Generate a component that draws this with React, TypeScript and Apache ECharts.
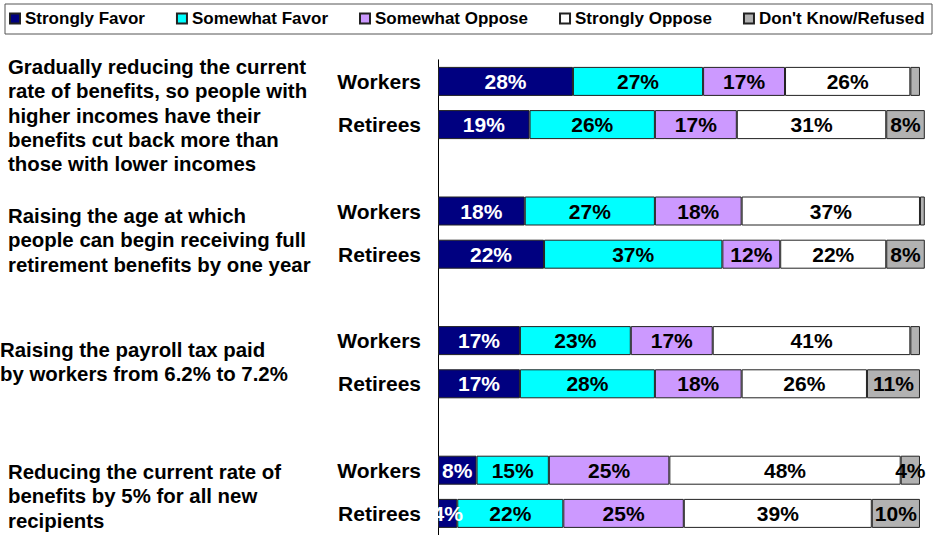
import React, { useEffect, useRef } from "react";
import * as echarts from "echarts";

const seriesNames = ["Strongly Favor", "Somewhat Favor", "Somewhat Oppose", "Strongly Oppose", "Don't Know/Refused"];
const seriesColors = ["#000080", "#00FFFF", "#CC99FF", "#FFFFFF", "#B2B2B2"];
const labelColors = ["#FFFFFF", "#000000", "#000000", "#000000", "#000000"];

// 8 bars: Workers / Retirees for each of 4 proposals
const rowLabels = ["Workers", "Retirees", "Workers", "Retirees", "Workers", "Retirees", "Workers", "Retirees"];
const stronglyFavor = [28, 19, 18, 22, 17, 17, 8, 4];
const somewhatFavor = [27, 26, 27, 37, 23, 28, 15, 22];
const somewhatOppose = [17, 17, 18, 12, 17, 18, 25, 25];
const stronglyOppose = [26, 31, 37, 22, 41, 26, 48, 39];
const dontKnow = [2, 8, 1, 8, 2, 11, 4, 10];

const groupTexts = [
  "Gradually reducing the current\nrate of benefits, so people with\nhigher incomes have their\nbenefits cut back more than\nthose with lower incomes",
  "Raising the age at which\npeople can begin receiving full\nretirement benefits by one year",
  "Raising the payroll tax paid\nby workers from 6.2% to 7.2%",
  "Reducing the current rate of\nbenefits by 5% for all new\nrecipients",
];

const FONT = "'Liberation Sans', Arial, sans-serif";

// insert an empty slot between proposal groups
function withGaps<T>(arr: T[], gap: T): T[] {
  const out: T[] = [];
  arr.forEach((v, i) => {
    out.push(v);
    if (i % 2 === 1 && i < arr.length - 1) out.push(gap);
  });
  return out;
}

export default function App() {
  const ref = useRef<HTMLDivElement>(null);
  useEffect(() => {
    if (!ref.current) return;
    const chart = echarts.init(ref.current, null, { renderer: "svg" });
    const cats = withGaps(rowLabels.map((r, i) => r + "|" + i), "gap");
    const allData = [stronglyFavor, somewhatFavor, somewhatOppose, stronglyOppose, dontKnow];
    const gridTop = 59.8;
    const gridHeight = 477.4;
    const gridLeft = 438;
    const gridWidth = 486.8;
    const textTops = [55, 204, 338, 460];
    const textLefts = [8, 8, 0, 8];
    chart.setOption({
      animation: false,
      backgroundColor: "#FFFFFF",
      textStyle: { fontFamily: FONT },
      legend: {
        data: seriesNames,
        left: 9,
        top: 10,
        padding: 0,
        itemGap: 31,
        itemWidth: 10,
        itemHeight: 10,
        icon: "rect",
        selectedMode: false,
        textStyle: { fontFamily: FONT, fontWeight: "bold", fontSize: 17, color: "#000" },
      },
      grid: { left: gridLeft, top: gridTop, width: gridWidth, height: gridHeight, containLabel: false },
      xAxis: { type: "value", min: 0, max: 101, show: false },
      yAxis: {
        type: "category",
        inverse: true,
        data: cats,
        axisLine: { show: true, lineStyle: { color: "#000", width: 1 } },
        axisTick: { show: false },
        axisLabel: {
          margin: 17,
          fontFamily: FONT,
          fontWeight: "bold",
          fontSize: 21,
          color: "#000",
          formatter: (v: string) => (v === "gap" ? "" : v.split("|")[0]),
        },
        splitLine: { show: false },
      },
      graphic: [
        {
          type: "rect",
          shape: { x: 5, y: 4, width: 927, height: 30 },
          style: { fill: "none", stroke: "#555", lineWidth: 1 },
          silent: true,
        },
        ...groupTexts.map((t, i) => ({
          type: "text",
          left: textLefts[i],
          top: textTops[i],
          style: {
            text: t,
            font: "bold 20.4px " + FONT,
            lineHeight: 24.3,
            fill: "#000",
          },
        })),
      ],
      series: seriesNames.map((name, si) => ({
        name,
        type: "bar",
        stack: "total",
        barWidth: 29,
        clip: false,
        data: withGaps(allData[si] as (number | string)[], "-"),
        itemStyle: { color: seriesColors[si], borderColor: "#222", borderWidth: 1 },
        label: {
          show: true,
          position: "inside",
          fontFamily: FONT,
          fontWeight: "bold",
          fontSize: 21,
          color: labelColors[si],
          formatter: (p: any) => (typeof p.value === "number" && p.value >= 3 ? p.value + "%" : ""),
        },
        emphasis: { disabled: true },
      })),
    });
    return () => chart.dispose();
  }, []);
  return <div ref={ref} style={{ position: "fixed", left: 0, top: 0, width: 937, height: 535 }} />;
}
